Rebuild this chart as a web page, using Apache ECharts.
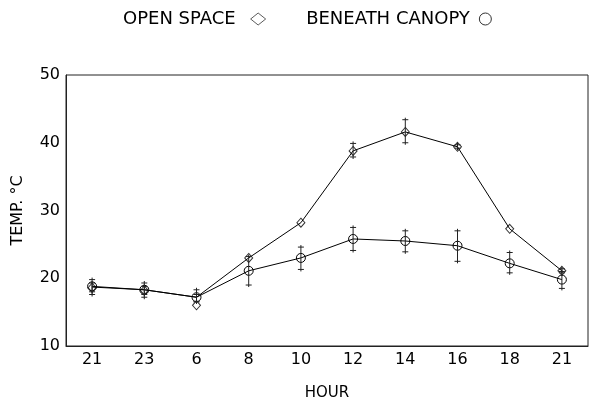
<!DOCTYPE html>
<html>
<head>
<meta charset="utf-8">
<script src="https://cdn.jsdelivr.net/npm/echarts@6/dist/echarts.min.js"></script>
<style>html,body{margin:0;padding:0;background:#fff;}#c{width:590px;height:399px;}</style>
</head>
<body>
<div id="c"></div>
<script>
// categories (hour of day)
const hours = ['21', '23', '6', '8', '10', '12', '14', '16', '18', '21'];
// OPEN SPACE marker values (diamonds)
const openSpace = [18.6, 18.2, 16.0, 23.0, 28.2, 38.8, 41.6, 39.4, 27.3, 21.1];
// OPEN SPACE connecting trace (as drawn: runs through the canopy point at 6 h)
const openSpaceTrace = [18.7, 18.3, 17.2, 23.0, 28.2, 38.8, 41.6, 39.4, 27.3, 21.1];
const openLow  = [18.0, 17.6, 16.5, 23.0, 28.2, 37.9, 40.0, 39.2, 27.3, 20.8];
const openHigh = [19.3, 18.8, 17.6, 23.0, 28.2, 39.9, 43.4, 39.7, 27.3, 21.4];
// BENEATH CANOPY values (circles)
const canopy = [18.8, 18.3, 17.2, 21.1, 23.0, 25.8, 25.5, 24.8, 22.2, 19.8];
const canopyLow  = [17.6, 17.2, 16.6, 19.0, 21.3, 24.1, 23.9, 22.5, 20.8, 18.5];
const canopyHigh = [19.8, 19.3, 18.3, 23.2, 24.6, 27.5, 27.0, 27.0, 23.8, 21.0];
// y ticks
const yMin = 10, yMax = 50, yStep = 5;

const font = 'DejaVu Sans';

function errData(lo, hi) {
  return lo.map((l, i) => [i, l, hi[i]]);
}
function renderErr(params, api) {
  const x = api.value(0), lo = api.value(1), hi = api.value(2);
  if (hi - lo < 0.05) return null;
  const p1 = api.coord([x, lo]), p2 = api.coord([x, hi]);
  const w = 3;
  const st = {stroke: '#222', lineWidth: 1};
  return {
    type: 'group',
    children: [
      {type: 'line', shape: {x1: p1[0], y1: p1[1] + 2, x2: p2[0], y2: p2[1] - 2}, style: st},
      {type: 'line', shape: {x1: p1[0] - w, y1: p1[1], x2: p1[0] + w, y2: p1[1]}, style: st},
      {type: 'line', shape: {x1: p2[0] - w, y1: p2[1], x2: p2[0] + w, y2: p2[1]}, style: st}
    ]
  };
}

const hollow = {color: 'rgba(255,255,255,0)', borderColor: '#333', borderWidth: 1};

const chart = echarts.init(document.getElementById('c'), null, {renderer: 'canvas'});
chart.setOption({
  animation: false,
  backgroundColor: '#fff',
  legend: {
    left: 118,
    top: 5,
    align: 'right',
    itemGap: 40,
    itemWidth: 15,
    itemHeight: 12,
    textStyle: {fontFamily: font, fontSize: 18, color: '#000'},
    data: [
      {name: 'OPEN SPACE', icon: 'diamond', itemStyle: hollow, textStyle: {padding: [0, 10, 0, 0]}},
      {name: 'BENEATH CANOPY', icon: 'circle', itemStyle: hollow, textStyle: {padding: [0, 3, 0, 0]}}
    ]
  },
  grid: {left: 66, right: 2, top: 75, bottom: 53, show: true, borderColor: '#222', borderWidth: 1,
    containLabel: false, outerBoundsMode: 'none'},
  xAxis: {
    type: 'category',
    data: hours,
    boundaryGap: true,
    name: 'HOUR',
    nameLocation: 'middle',
    nameGap: 40,
    nameTextStyle: {fontFamily: font, fontSize: 15, color: '#000'},
    axisLine: {lineStyle: {color: '#222', width: 1}},
    axisTick: {inside: true, alignWithLabel: true, length: 4, lineStyle: {color: '#222'}},
    axisLabel: {fontFamily: font, fontSize: 16, color: '#000', margin: 6},
    splitLine: {show: false}
  },
  yAxis: {
    type: 'value',
    min: yMin, max: yMax, interval: yStep,
    name: 'TEMP. °C',
    nameLocation: 'middle',
    nameGap: 40,
    nameRotate: 90,
    nameTextStyle: {fontFamily: font, fontSize: 16, color: '#000'},
    axisLine: {show: true, lineStyle: {color: '#222', width: 1}},
    axisTick: {inside: true, length: 4, lineStyle: {color: '#222'}},
    axisLabel: {fontFamily: font, fontSize: 16, color: '#000', margin: 6,
      formatter: v => (v % 10 === 0 ? String(v) : '')},
    splitLine: {show: false}
  },
  series: [
    {
      name: 'openTrace', type: 'line', data: openSpaceTrace, symbol: 'none',
      lineStyle: {color: '#000', width: 1}, z: 2, silent: true
    },
    {
      name: 'BENEATH CANOPY', type: 'line', data: canopy,
      symbol: 'circle', symbolSize: 9, showAllSymbol: true,
      lineStyle: {color: '#000', width: 1},
      itemStyle: {color: 'rgba(255,255,255,0)', borderColor: '#000', borderWidth: 1},
      z: 3
    },
    {
      name: 'OPEN SPACE', type: 'scatter', data: openSpace,
      symbol: 'diamond', symbolSize: [8, 9],
      itemStyle: {color: 'rgba(255,255,255,0)', borderColor: '#000', borderWidth: 1},
      z: 4
    },
    {name: 'errOpen', type: 'custom', data: errData(openLow, openHigh), renderItem: renderErr, z: 5, silent: true},
    {name: 'errCanopy', type: 'custom', data: errData(canopyLow, canopyHigh), renderItem: renderErr, z: 5, silent: true}
  ]
});
</script>
</body>
</html>
